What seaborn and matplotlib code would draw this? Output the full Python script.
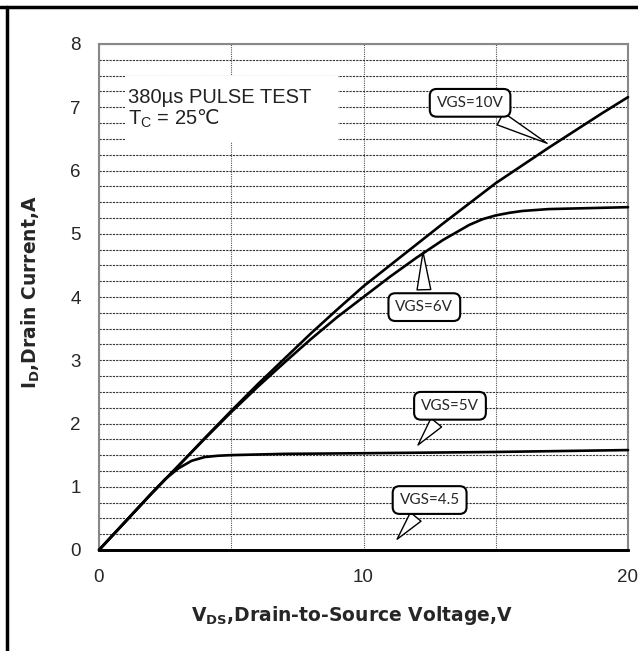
import matplotlib
matplotlib.use('Agg')
import matplotlib.pyplot as plt
import matplotlib.patches as patches
from matplotlib.lines import Line2D
import numpy as np
import seaborn as sns

# Data (VDS in V, ID in A)
vds_10v = [0, 1, 2, 3, 4, 5, 6, 7, 8, 9, 10, 11, 12, 13, 14, 15, 16, 17, 18, 19, 20]
id_10v = [0, 0.45, 0.9, 1.33, 1.77, 2.2, 2.62, 3.02, 3.42, 3.8, 4.17, 4.5, 4.83, 5.16, 5.48, 5.8, 6.08, 6.36, 6.63, 6.9, 7.16]

vds_6v = [0, 1, 2, 3, 4, 5, 6, 7, 8, 9, 10, 11, 12, 13, 14, 14.5, 15, 15.5, 16, 17, 18, 19, 20]
id_6v = [0, 0.45, 0.9, 1.33, 1.76, 2.18, 2.58, 2.96, 3.33, 3.68, 4.0, 4.32, 4.62, 4.9, 5.14, 5.23, 5.29, 5.33, 5.36, 5.39, 5.4, 5.41, 5.42]

vds_5v = [0, 1, 2, 2.5, 3, 3.5, 4, 4.5, 5, 7, 10, 15, 20]
id_5v = [0, 0.45, 0.9, 1.12, 1.29, 1.41, 1.47, 1.49, 1.5, 1.52, 1.53, 1.55, 1.58]

vds_45 = [0, 20]
id_45 = [0, 0]

# callouts: label, curve point, box centre
callout_labels = ['VGS=10V', 'VGS=6V', 'VGS=5V', 'VGS=4.5']
callout_tips = [(16.94, 6.43), (12.25, 4.71), (12.06, 1.66), (11.27, 0.17)]
callout_boxes = [(14.03, 7.07), (12.3, 3.84), (13.27, 2.28), (12.5, 0.79)]

x_ticks = [0, 10, 20]
y_ticks = [0, 1, 2, 3, 4, 5, 6, 7, 8]

sns.set_style('white')
plt.rcParams['font.family'] = ['Liberation Sans', 'DejaVu Sans']
plt.rcParams['mathtext.default'] = 'regular'
plt.rcParams['mathtext.fontset'] = 'custom'
plt.rcParams['mathtext.rm'] = 'Noto Sans CJK SC'

fig = plt.figure(figsize=(6.38, 6.51), dpi=100)
ax = fig.add_axes([99 / 638, 1 - 550 / 651, 529 / 638, 506 / 651])

# grid
ax.set_xlim(0, 20)
ax.set_ylim(0, 8)
ax.set_xticks(x_ticks)
ax.set_xticks([5, 15], minor=True)
ax.set_yticks(y_ticks)
ax.set_yticks(np.arange(0, 8.01, 0.25), minor=True)
ax.grid(which='both', axis='y', color='#333333', lw=0.8, ls=(0, (2, 1)), zorder=0)
ax.grid(which='both', axis='x', color='#555555', lw=0.8, ls=(0, (1, 1)), zorder=0)
ax.set_axisbelow(True)
ax.tick_params(which='both', length=0)
ax.tick_params(axis='y', pad=13, labelsize=13.5)
ax.tick_params(axis='x', pad=14, labelsize=13.5)
for s in ['top', 'right', 'left']:
    ax.spines[s].set_color('#888888')
    ax.spines[s].set_linewidth(1.5)
ax.spines['bottom'].set_color('black')
ax.spines['bottom'].set_linewidth(2)

# white box behind the test conditions
ax.add_patch(patches.Rectangle((0.049, 0.806), 0.403, 0.131, transform=ax.transAxes,
                               facecolor='white', edgecolor='none', zorder=1))
ax.text(0.055, 0.895, '380µs PULSE TEST', transform=ax.transAxes, fontsize=14.5,
        color='#222222', va='center', ha='left', zorder=2)
ax.text(0.055, 0.852, r'T$_C$ = 25$\mathrm{℃}$', transform=ax.transAxes, fontsize=14.5,
        color='#222222', va='center', ha='left', zorder=2)

# curves
for xs, ys in [(vds_10v, id_10v), (vds_6v, id_6v), (vds_5v, id_5v), (vds_45, id_45)]:
    sns.lineplot(x=xs, y=ys, ax=ax, color='black', lw=1.9, zorder=3, clip_on=False)

for lab, tip, box in zip(callout_labels, callout_tips, callout_boxes):
    ax.annotate(lab, xy=tip, xytext=box, ha='center', va='center', fontsize=11,
                family='Lato', zorder=4,
                bbox=dict(boxstyle='round,pad=0.45', fc='white', ec='black', lw=1.5),
                arrowprops=dict(arrowstyle='wedge,tail_width=0.9,shrink_factor=0.5',
                                fc='white', ec='black', lw=1.0, shrinkB=0))

label_font = dict(fontsize=13.5, fontweight='bold', family='DejaVu Sans')
ax.set_xlabel('V$_{DS}$,Drain-to-Source Voltage,V', **label_font)
ax.set_ylabel('I$_D$,Drain Current,A', **label_font)
ax.xaxis.set_label_coords(0.478, -0.107)
ax.yaxis.set_label_coords(-0.108, 0.51)

# outer frame (top and left only)
fig.add_artist(Line2D([0, 1], [1 - 7 / 651, 1 - 7 / 651], transform=fig.transFigure, color='black', lw=2.5))
fig.add_artist(Line2D([6.5 / 638, 6.5 / 638], [0, 1 - 7 / 651], transform=fig.transFigure, color='black', lw=2.5))

fig.savefig('out.png', dpi=100)
